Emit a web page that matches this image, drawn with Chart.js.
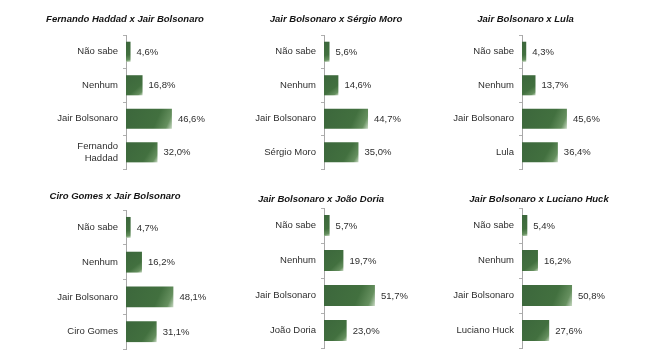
<!DOCTYPE html>
<html>
<head>
<meta charset="utf-8">
<script src="https://cdn.jsdelivr.net/npm/chart.js@4.4.0/dist/chart.umd.min.js"></script>
<style>
  html, body { margin: 0; padding: 0; background: #ffffff; }
  body { width: 660px; height: 360px; position: relative; overflow: hidden; }
  canvas { position: absolute; }
</style>
</head>
<body>
<script>
// ---- Data ----
const titles = [
  'Fernando Haddad x Jair Bolsonaro',
  'Jair Bolsonaro x Sérgio Moro',
  'Jair Bolsonaro x Lula',
  'Ciro Gomes x Jair Bolsonaro',
  'Jair Bolsonaro x João Doria',
  'Jair Bolsonaro x Luciano Huck'
];
const categories1 = ['Não sabe', 'Nenhum', 'Jair Bolsonaro', ['Fernando', 'Haddad']];
const categories2 = ['Não sabe', 'Nenhum', 'Jair Bolsonaro', 'Sérgio Moro'];
const categories3 = ['Não sabe', 'Nenhum', 'Jair Bolsonaro', 'Lula'];
const categories4 = ['Não sabe', 'Nenhum', 'Jair Bolsonaro', 'Ciro Gomes'];
const categories5 = ['Não sabe', 'Nenhum', 'Jair Bolsonaro', 'João Doria'];
const categories6 = ['Não sabe', 'Nenhum', 'Jair Bolsonaro', 'Luciano Huck'];
const values1 = [4.6, 16.8, 46.6, 32.0];
const values2 = [5.6, 14.6, 44.7, 35.0];
const values3 = [4.3, 13.7, 45.6, 36.4];
const values4 = [4.7, 16.2, 48.1, 31.1];
const values5 = [5.7, 19.7, 51.7, 23.0];
const values6 = [5.4, 16.2, 50.8, 27.6];

const categories = [categories1, categories2, categories3, categories4, categories5, categories6];
const values = [values1, values2, values3, values4, values5, values6];

// ---- Layout (positions / sizes) ----
const layouts = [
  { left: 30,  top: 0,   w: 190, yW: 96,  tTop: 13.3, tBot: 10.3, pBot: 6 },
  { left: 232, top: 0,   w: 208, yW: 92,  tTop: 13.3, tBot: 10.3, pBot: 6 },
  { left: 440, top: 0,   w: 171, yW: 82,  tTop: 13.3, tBot: 10.3, pBot: 6 },
  { left: 10,  top: 180, w: 210, yW: 116, tTop: 10.3, tBot: 8.3,  pBot: 10 },
  { left: 222, top: 180, w: 198, yW: 102, tTop: 13.3, tBot: 3.3,  pBot: 12 },
  { left: 440, top: 180, w: 198, yW: 82,  tTop: 13.8, tBot: 2.8,  pBot: 12 }
];
const PX_PER_UNIT = 0.985;
const FONT = "'Liberation Sans', Arial, sans-serif";

function fmt(v) { return v.toFixed(1).replace('.', ',') + '%'; }

const valueLabels = {
  id: 'valueLabels',
  afterDatasetsDraw(chart) {
    const ctx = chart.ctx;
    const meta = chart.getDatasetMeta(0);
    const data = chart.data.datasets[0].data;
    ctx.save();
    ctx.font = '9.5px ' + FONT;
    ctx.fillStyle = '#2e2e2e';
    ctx.textAlign = 'left';
    ctx.textBaseline = 'middle';
    meta.data.forEach((bar, i) => {
      ctx.fillText(fmt(data[i]), bar.x + 6, bar.y + 0.5);
    });
    ctx.restore();
  }
};

function barGradient(c) {
  const chart = c.chart;
  const base = '#3f6b3f';
  if (!chart.chartArea || !chart.scales.x || !chart.scales.y) return base;
  const xs = chart.scales.x, ys = chart.scales.y;
  const x0 = xs.getPixelForValue(0);
  const x1 = xs.getPixelForValue(c.raw);
  const yc = ys.getPixelForValue(c.dataIndex);
  const h = ys.height / chart.data.labels.length * 0.6;
  const g = chart.ctx.createLinearGradient(x0, yc - h / 2, x1, yc + h / 2);
  g.addColorStop(0, '#3c673c');
  g.addColorStop(0.65, '#42703f');
  g.addColorStop(0.88, '#66905f');
  g.addColorStop(1, '#c9dac4');
  return g;
}

layouts.forEach((L, k) => {
  const cv = document.createElement('canvas');
  cv.width = L.w; cv.height = 180;
  cv.style.left = L.left + 'px';
  cv.style.top = L.top + 'px';
  cv.style.width = L.w + 'px';
  cv.style.height = '180px';
  document.body.appendChild(cv);
  new Chart(cv, {
    type: 'bar',
    data: {
      labels: categories[k],
      datasets: [{
        data: values[k],
        backgroundColor: barGradient,
        borderWidth: 0,
        barPercentage: 0.6,
        categoryPercentage: 1.0
      }]
    },
    options: {
      indexAxis: 'y',
      responsive: false,
      animation: false,
      devicePixelRatio: 1,
      layout: { padding: { left: 0, right: 0, top: 0, bottom: L.pBot } },
      plugins: {
        legend: { display: false },
        tooltip: { enabled: false },
        title: {
          display: true,
          text: titles[k],
          color: '#141414',
          font: { family: FONT, size: 9.5, weight: 'bold', style: 'italic', lineHeight: 1.2 },
          padding: { top: L.tTop, bottom: L.tBot }
        }
      },
      scales: {
        x: {
          display: false,
          min: 0,
          max: (L.w - L.yW) / PX_PER_UNIT
        },
        y: {
          afterFit(scale) { scale.width = L.yW; },
          border: { display: true, color: '#a8a8a8', width: 1 },
          grid: { drawOnChartArea: false, drawTicks: true, tickLength: 3, color: '#b0b0b0', offset: true },
          ticks: {
            color: '#2e2e2e',
            padding: 5,
            font: { family: FONT, size: 9.5, lineHeight: 1.25 }
          }
        }
      }
    },
    plugins: [valueLabels]
  });
});
</script>
</body>
</html>
